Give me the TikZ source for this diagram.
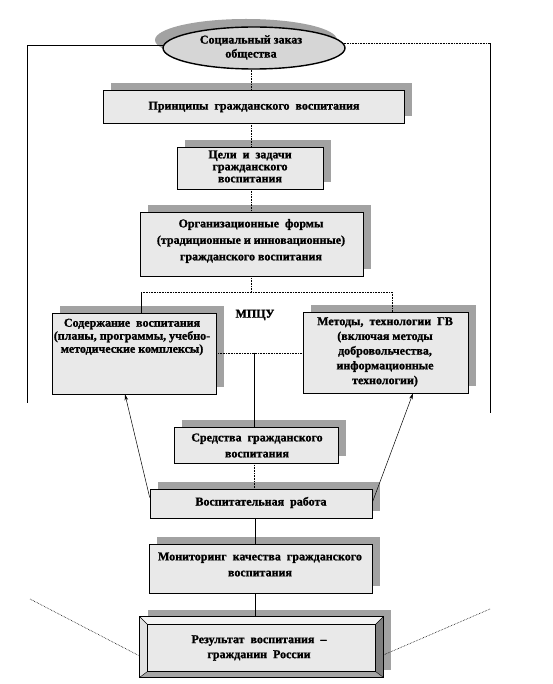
\documentclass[tikz,border=0pt]{standalone}
\usepackage{fontspec}
\setmainfont{Liberation Serif}[BoldFeatures={FakeBold=1.2}]
\usetikzlibrary{shapes.geometric,shadows,arrows.meta}
\definecolor{boxfill}{HTML}{E9E9E9}
\definecolor{ellfill}{HTML}{D6D6D6}
\definecolor{shadowc}{HTML}{A2A2A2}
\definecolor{bevlight}{HTML}{F4F4F4}
\definecolor{bevleft}{HTML}{E2E2E2}
\definecolor{bevdark}{HTML}{7E7E7E}
\definecolor{bevbot}{HTML}{A6A6A6}
\begin{document}
\begin{tikzpicture}[x=1pt,y=-1pt,
  box/.style={draw=black, line width=0.6pt, fill=boxfill, rectangle, inner sep=0pt,
    drop shadow={shadow xshift=8pt, shadow yshift=7pt, fill=shadowc, opacity=1}},
  txt/.style={font=\bfseries\fontsize{12}{#1}\selectfont, align=center, inner sep=0pt},
  txt/.default=14,
  dotln/.style={densely dotted, line width=0.6pt},
  ln/.style={line width=0.6pt},
  arr/.style={line width=0.5pt, -{Stealth[length=6pt,width=3.5pt]}}]
\fill[white] (0,0) rectangle (552,684);
\useasboundingbox (0,0) rectangle (552,684);

% ellipse
\node[ellipse, draw=black, line width=1.4pt, fill=ellfill, minimum width=182pt, minimum height=42pt, inner sep=0pt,
  drop shadow={shadow xshift=-8pt, shadow yshift=8pt, fill=shadowc, opacity=1}] (el) at (254,48) {};
\node[txt=14] (elt) at (251,47.5) {Социальный заказ\\общества};

% boxes
\node[box, minimum width=301pt, minimum height=33pt] (pr) at (253.5,106.5) {};
\node[txt] (prt) at (254,107) {Принципы\ \ гражданского\ \ воспитания};

\node[box, minimum width=146pt, minimum height=42pt] (cz) at (250,168) {};
\node[txt=12] (czt) at (250,166.5) {Цели\ \ и\ \ задачи\\гражданского\\воспитания};

\node[box, minimum width=223pt, minimum height=64pt] (of) at (251.5,244) {};
\node[txt=16.5] (oft) at (251,241) {Организационные\ \ формы\\(традиционные и инновационные)\\гражданского воспитания};

\node[box, minimum width=164pt, minimum height=81pt] (sd) at (134,353.5) {};
\node[txt=13] (sdt) at (132,337) {Содержание\ \ воспитания\\(планы, программы, учебно-\\методические комплексы)};

\node[box, minimum width=165pt, minimum height=81pt] (mt) at (385.5,352.5) {};
\node[txt=14.75] (mtt) at (385,352) {Методы,\ \ технологии\ \ ГВ\\(включая методы\\добровольчества,\\информационные\\технологии)};

\node[txt] (mpcu) at (255,315) {МПЦУ};

\node[box, minimum width=164pt, minimum height=36pt] (sr) at (256,445) {};
\node[txt=16] (srt) at (257,445.5) {Средства\ \ гражданского\\воспитания};

\node[box, minimum width=222pt, minimum height=29pt] (vr) at (261,503.5) {};
\node[txt] (vrt) at (261,502.5) {Воспитательная\ \ работа};

\node[box, minimum width=223pt, minimum height=49pt] (mn) at (260.5,568.5) {};
\node[txt=16] (mnt) at (260,564.5) {Мониторинг\ \ качества\ \ гражданского\\воспитания};

% result bevel box
\node[box, fill=boxfill, minimum width=243pt, minimum height=60pt] (rz) at (261.5,647) {};
\fill[bevlight] (rz.north west) -- (rz.north east) -- ([xshift=-8pt,yshift=-8pt]rz.north east) -- ([xshift=8pt,yshift=-8pt]rz.north west) -- cycle;
\fill[bevleft] (rz.north west) -- ([xshift=8pt,yshift=-8pt]rz.north west) -- ([xshift=8pt,yshift=6pt]rz.south west) -- (rz.south west) -- cycle;
\fill[bevdark] (rz.north east) -- (rz.south east) -- ([xshift=-8pt,yshift=6pt]rz.south east) -- ([xshift=-8pt,yshift=-8pt]rz.north east) -- cycle;
\fill[bevbot] (rz.south west) -- (rz.south east) -- ([xshift=-8pt,yshift=6pt]rz.south east) -- ([xshift=8pt,yshift=6pt]rz.south west) -- cycle;
\draw[line width=0.5pt] ([xshift=8pt,yshift=-8pt]rz.north west) rectangle ([xshift=-8pt,yshift=6pt]rz.south east);
\draw[line width=0.4pt] (rz.north west) -- ([xshift=8pt,yshift=-8pt]rz.north west)
  (rz.north east) -- ([xshift=-8pt,yshift=-8pt]rz.north east)
  (rz.south west) -- ([xshift=8pt,yshift=6pt]rz.south west)
  (rz.south east) -- ([xshift=-8pt,yshift=6pt]rz.south east);
\draw[line width=0.8pt] (rz.north west) rectangle (rz.south east);
\node[txt=15] (rzt) at (259,648) {Результат\ \ воспитания\ \ –\\гражданин\ \ России};

% frame lines
\coordinate (lt) at (27,45);
\coordinate (lb) at (27,403);
\coordinate (rt) at (490,43);
\coordinate (rb) at (490,413);
\draw[ln] (el.178) -- (el.178 -| lt) -- (lb);
\draw[dotln] (el.3) -- (el.3 -| rt);
\draw[ln] (el.3 -| rt) -- (rb);

% vertical chain
\coordinate (c1) at (251,0);
\coordinate (j1) at (251,292);
\coordinate (jl) at (141,292);
\coordinate (jr) at (392,292);
\coordinate (j2) at (254,352.5);
\coordinate (c2) at (255,0);
\draw[dotln] (el.south -| c1) -- (c1 |- pr.north);
\draw[dotln] (c1 |- pr.south) -- (c1 |- cz.north);
\draw[dotln] (c1 |- cz.south) -- (c1 |- of.north);
\draw[dotln] (c1 |- of.south) -- (j1);
\draw[dotln] (jl) -- (jr);
\draw[ln] (jl) -- (jl |- sd.north);
\draw[dotln] (jr) -- (jr |- mt.north);
\draw[dotln] (sd.east) -- (sd.east -| mt.west);
\draw[ln] (j2) -- (j2 |- sr.north);
\draw[dotln] (j2 |- sr.south) -- (j2 |- vr.north);
\draw[ln] (c2 |- vr.south) -- (c2 |- mn.north);
\draw[ln] (c2 |- mn.south) -- (c2 |- rz.north);

% arrows
\draw[arr] ([yshift=6pt]vr.west) -- ([xshift=-9pt]sd.south);
\draw[arr] ([yshift=1pt]vr.east) -- ([xshift=27.5pt]mt.south);

% bottom diagonals
\coordinate (dl) at (30,599);
\coordinate (dr) at (490,609);
\draw[dotln] (dl) -- ([yshift=-9pt]rz.west);
\draw[dotln] (dr) -- ([yshift=-8pt]rz.east);
\end{tikzpicture}
\end{document}
